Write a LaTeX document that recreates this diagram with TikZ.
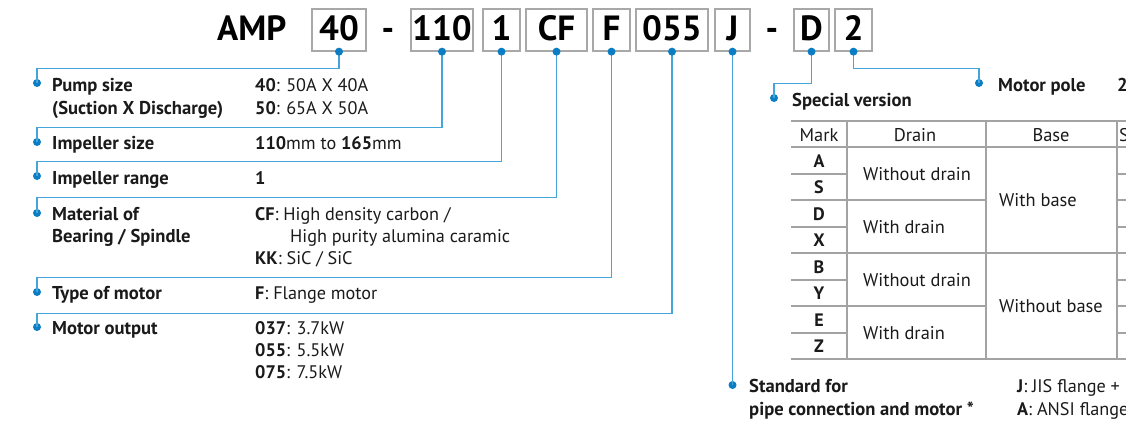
\documentclass[tikz,border=0pt]{standalone}
\usepackage{fontspec}
\setmainfont{PT Sans}
\definecolor{lineblue}{HTML}{45A5DA}
\definecolor{dotblue}{HTML}{0B7DC3}
\definecolor{boxgray}{HTML}{A8A8A8}
\definecolor{tablegray}{HTML}{A3A3A3}
\definecolor{ink}{HTML}{1A1A1A}
\begin{document}
\begin{tikzpicture}[x=1pt,y=-1pt,
  codebox/.style={draw=boxgray, line width=1.3pt, fill=white, inner sep=0pt,
    text height=25pt, text depth=4pt, minimum height=42pt,
    font=\fontsize{35}{40}\selectfont\bfseries, text=black},
  bigtxt/.style={inner sep=0pt, anchor=base west, font=\fontsize{35}{40}\selectfont\bfseries, text=black},
  bul/.style={circle, fill=dotblue, inner sep=0pt, minimum size=8pt},
  conn/.style={draw=lineblue, line width=1.4pt},
  lbl/.style={anchor=base west, inner sep=0pt, font=\fontsize{18.6}{22}\selectfont\bfseries, text=ink},
  val/.style={anchor=base west, inner sep=0pt, font=\fontsize{18.2}{22}\selectfont, text=ink},
  tcell/.style={anchor=base, inner sep=0pt, font=\fontsize{18.4}{22}\selectfont, text=ink},
  tcellw/.style={anchor=base west, inner sep=0pt, font=\fontsize{18.4}{22}\selectfont, text=ink},
  tmark/.style={anchor=base, inner sep=0pt, font=\fontsize{18}{22}\selectfont\bfseries, text=ink},
  tline/.style={draw=tablegray, line width=1.2pt}
]
\useasboundingbox (0,0) rectangle (1126,420);

% ---------- code row ----------
\node[bigtxt] (amp) at (217,41) {AMP};
\node[codebox, minimum width=54pt] (b40) at (339,30) {40};
\node[bigtxt, anchor=base] (dash1) at (388,41) {-};
\node[codebox, minimum width=62pt] (b110) at (442,30) {110};
\node[codebox, minimum width=37pt] (b1) at (501.5,30) {1};
\node[codebox, minimum width=61pt] (bCF) at (556.5,30) {CF};
\node[codebox, minimum width=37pt] (bF) at (611.5,30) {F};
\node[codebox, minimum width=72pt] (b055) at (672,30) {055};
\node[codebox, minimum width=35pt] (bJ) at (732.5,30) {J};
\node[bigtxt, anchor=base] (dash2) at (772,41) {-};
\node[codebox, minimum width=35pt] (bD) at (811.5,30) {D};
\node[codebox, minimum width=37pt] (b2) at (853.5,30) {2};

% ---------- bullets ----------
\node[bul] (pPump) at (37,83) {};
\node[bul] (pImpS) at (37,142) {};
\node[bul] (pImpR) at (37,176) {};
\node[bul] (pMat)  at (37,213) {};
\node[bul] (pType) at (37,292) {};
\node[bul] (pOut)  at (37,327) {};
\node[bul] (pStd)  at (732.5,385) {};
\node[bul] (pSpec) at (774,98) {};
\node[bul] (pPole) at (979,83) {};

% ---------- connectors ----------
\draw[conn] (b40.south)  -- ++(0,17) -| (pPump.center);
\draw[conn] (b110.south) -- ++(0,76) -| (pImpS.center);
\draw[conn] (b1.south)   -- ++(0,110) -| (pImpR.center);
\draw[conn] (bCF.south)  -- ++(0,146) -| (pMat.center);
\draw[conn] (bF.south)   -- ++(0,226) -| (pType.center);
\draw[conn] (b055.south) -- ++(0,262) -| (pOut.center);
\draw[conn] (bJ.south)   -- (pStd.center);
\draw[conn] (bD.south)   -- ++(0,32) -| (pSpec.center);
\draw[conn] (b2.south)   -- ++(0,17) -| (pPole.center);

% dots on the boxes
\foreach \b in {b40,b110,b1,bCF,bF,b055,bJ,bD,b2}{
  \node[bul] (d\b) at (\b.south) {};
}

% ---------- left labels ----------
\node[lbl] (tPump1) at (52,91) {Pump size};
\node[lbl] (tPump2) at (52,114) {(Suction X Discharge)};
\node[val] (vPump1) at (255,91) {\textbf{40}: 50A X 40A};
\node[val] (vPump2) at (255,114) {\textbf{50}: 65A X 50A};

\node[lbl] (tImpS) at (52,149) {Impeller size};
\node[val] (vImpS) at (255,149) {\textbf{110}mm to \textbf{165}mm};

\node[lbl] (tImpR) at (52,184) {Impeller range};
\node[val] (vImpR) at (255,184) {\textbf{1}};

\node[lbl] (tMat1) at (52,220) {Material of};
\node[lbl] (tMat2) at (52,242) {Bearing / Spindle};
\node[val] (vMat1) at (255,220) {\textbf{CF}: High density carbon /};
\node[val] (vMat2) at (290,242) {High purity alumina caramic};
\node[val] (vMat3) at (255,264) {\textbf{KK}: SiC / SiC};

\node[lbl] (tType) at (52,299) {Type of motor};
\node[val] (vType) at (255,299) {\textbf{F}: Flange motor};

\node[lbl] (tOut) at (52,334) {Motor output};
\node[val] (vOut1) at (255,334) {\textbf{037}: 3.7kW};
\node[val] (vOut2) at (255,356) {\textbf{055}: 5.5kW};
\node[val] (vOut3) at (255,378) {\textbf{075}: 7.5kW};

% ---------- right labels ----------
\node[lbl] (tSpec) at (792,106) {Special version};
\node[lbl] (tPole) at (998,91) {Motor pole};
\node[lbl] (vPole) at (1117,91) {2};

\node[lbl] (tStd1) at (749,392) {Standard for};
\node[lbl] (tStd2) at (749,415) {pipe connection and motor *};
\node[val] (vStd1) at (1017,392) {\textbf{J}: JIS flange +};
\node[val] (vStd2) at (1017,415) {\textbf{A}: ANSI flange};

% ---------- table ----------
\draw[tline] (791,121) -- (1126,121);
\draw[tline] (791,147) -- (1126,147);
\draw[tline] (791,253) -- (1126,253);
\draw[tline] (791,359) -- (1126,359);
\foreach \y in {174,227,280,333}{
  \draw[tline] (791,\y) -- (847,\y);
  \draw[tline] (1117,\y) -- (1126,\y);
}
\foreach \y in {200,306}{
  \draw[tline] (791,\y) -- (986,\y);
  \draw[tline] (1117,\y) -- (1126,\y);
}
\draw[tline] (847,121) -- (847,359);
\draw[tline] (986,121) -- (986,359);
\draw[tline] (1117,121) -- (1117,359);

\node[tcell] (hMark)  at (819,141) {Mark};
\node[tcell] (hDrain) at (915,141) {Drain};
\node[tcell] (hBase)  at (1051,141) {Base};
\node[tcellw] (hS)    at (1119,141) {S};

\node[tmark] (mA) at (819,167) {A};
\node[tmark] (mS) at (819,193) {S};
\node[tmark] (mD) at (819,220) {D};
\node[tmark] (mX) at (819,246) {X};
\node[tmark] (mB) at (819,273) {B};
\node[tmark] (mY) at (819,299) {Y};
\node[tmark] (mE) at (819,326) {E};
\node[tmark] (mZ) at (819,352) {Z};

\node[tcellw] (dr1) at (863,180) {Without drain};
\node[tcellw] (dr2) at (863,233) {With drain};
\node[tcellw] (dr3) at (863,286) {Without drain};
\node[tcellw] (dr4) at (863,339) {With drain};

\node[tcellw] (ba1) at (999,206) {With base};
\node[tcellw] (ba2) at (999,312) {Without base};
\end{tikzpicture}
\end{document}
